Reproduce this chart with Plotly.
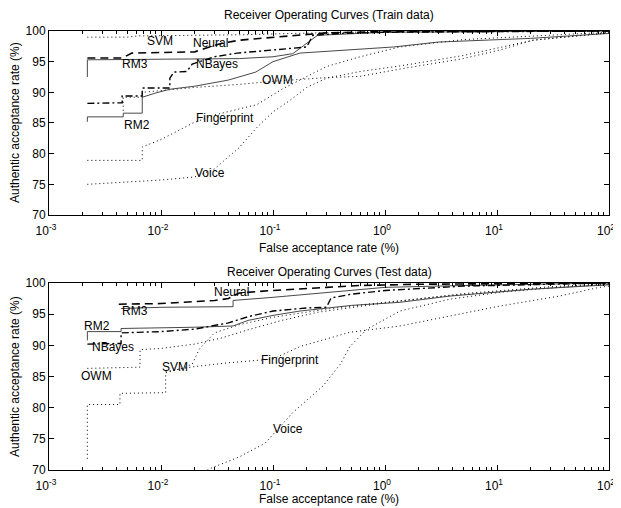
import math
import plotly.graph_objects as go

# ---------------- data (FAR %, authentic acceptance %) ----------------
# Train data
train_svm_x = [0.0022, 0.005, 0.0062, 0.02, 0.06, 0.15, 0.5, 5, 100]
train_svm_y = [99.0, 99.0, 99.2, 99.3, 99.4, 99.6, 99.8, 99.9, 100]
train_neural_x = [0.0022, 0.0045, 0.0055, 0.02, 0.025, 0.035, 0.05, 0.08, 0.2, 0.3, 1, 100]
train_neural_y = [95.6, 95.6, 96.4, 96.6, 97.2, 98.0, 98.5, 98.8, 99.5, 99.7, 99.9, 100]
train_rm3_x = [0.0022, 0.0022, 0.01, 0.05, 0.1, 0.15, 0.25, 1, 100]
train_rm3_y = [92.5, 95.3, 95.4, 95.5, 95.8, 96.3, 99.3, 99.8, 100]
train_nbayes_x = [0.0022, 0.0045, 0.0045, 0.0068, 0.0068, 0.012, 0.012, 0.013, 0.017, 0.019, 0.03,
                  0.048, 0.1, 0.2, 0.227, 0.4, 1, 100]
train_nbayes_y = [88.2, 88.3, 89.4, 89.4, 90.7, 90.7, 92.3, 93.3, 93.4, 94.6, 95.8,
                  96.4, 96.9, 97.4, 99.3, 99.6, 99.8, 100]
train_rm2_x = [0.0022, 0.0022, 0.0046, 0.0046, 0.0068, 0.0068, 0.009, 0.012, 0.02, 0.04, 0.07,
               0.1, 0.174, 1.2, 3, 20, 100]
train_rm2_y = [85.2, 86.0, 86.0, 86.6, 86.6, 89.2, 89.9, 90.5, 91.0, 92.0, 93.3,
               95.0, 96.4, 97.4, 98.2, 98.8, 99.6]
train_owm_x = [0.0046, 0.0046, 0.0068, 0.0068, 0.02, 0.05, 0.1, 0.3, 0.6, 1.36, 5, 10.6, 21, 100]
train_owm_y = [87.0, 89.2, 89.2, 90.0, 90.8, 91.3, 91.8, 92.4, 92.6, 93.8, 95.5, 96.9, 98.5, 99.7]
train_finger_x = [0.0022, 0.0068, 0.0068, 0.01, 0.0193, 0.03, 0.072, 0.12, 0.174, 0.3, 0.6, 1.36, 5, 100]
train_finger_y = [78.9, 78.9, 81.1, 82.3, 85.0, 86.3, 88.0, 90.5, 92.0, 94.2, 95.8, 97.4, 98.6, 99.8]
train_voice_x = [0.0022, 0.005, 0.01, 0.02, 0.03, 0.05, 0.072, 0.1, 0.142, 0.2, 0.3, 0.6, 1.36, 5, 21, 100]
train_voice_y = [75.0, 75.4, 75.7, 76.2, 77.5, 81.0, 84.3, 86.8, 88.7, 90.8, 92.3, 93.4, 94.3, 96.0, 98.5, 99.7]

# Test data
test_neural_x = [0.0042, 0.01, 0.03, 0.04, 0.05, 0.1, 0.3, 0.6, 2, 100]
test_neural_y = [96.6, 96.7, 97.2, 97.5, 98.4, 98.8, 99.3, 99.6, 99.8, 100]
test_rm3_x = [0.0044, 0.01, 0.044, 0.044, 0.1, 0.3, 1, 5, 100]
test_rm3_y = [95.9, 96.1, 96.2, 97.2, 97.7, 98.5, 99.3, 99.6, 100]
test_rm2_x = [0.0022, 0.0022, 0.0044, 0.0044, 0.02, 0.044, 0.06, 0.1, 0.174, 0.5, 1.36, 3.8, 20, 100]
test_rm2_y = [90.8, 92.2, 92.2, 92.7, 92.9, 93.1, 94.0, 94.8, 95.5, 96.4, 96.9, 97.9, 99.0, 99.7]
test_nbayes_x = [0.0022, 0.0044, 0.0044, 0.01, 0.02, 0.04, 0.06, 0.1, 0.2, 0.3, 0.33, 0.5, 1, 5, 100]
test_nbayes_y = [90.2, 90.3, 92.0, 92.2, 92.6, 93.6, 94.6, 95.5, 96.0, 96.1, 97.6, 98.2, 98.8, 99.5, 100]
test_owm_x = [0.0022, 0.0022, 0.0043, 0.0043, 0.011, 0.011, 0.016, 0.019, 0.022, 0.03, 0.05, 0.1,
              0.3, 0.69, 3, 20, 100]
test_owm_y = [71.8, 80.5, 80.5, 82.3, 82.4, 85.6, 86.4, 87.0, 89.4, 92.0, 93.3, 94.5,
              95.8, 96.6, 97.8, 99.0, 99.8]
test_svm_x = [0.0022, 0.0065, 0.0065, 0.01, 0.02, 0.035, 0.06, 0.12, 0.25, 1, 5, 30, 100]
test_svm_y = [86.3, 86.5, 89.3, 89.5, 90.2, 91.2, 92.5, 94.0, 95.3, 96.8, 98.3, 99.4, 99.9]
test_finger_x = [0.011, 0.02, 0.04, 0.1, 0.174, 0.486, 1.36, 3.8, 10.6, 36, 82, 100]
test_finger_y = [85.8, 86.6, 87.2, 87.8, 89.8, 92.1, 93.1, 94.7, 96.3, 97.9, 99.3, 99.5]
test_voice_x = [0.018, 0.028, 0.05, 0.085, 0.15, 0.28, 0.4, 0.486, 0.69, 1.36, 3.8, 10.6, 36, 100]
test_voice_y = [68.5, 70.3, 72.1, 74.3, 79.2, 83.5, 87.0, 89.8, 92.6, 95.5, 97.4, 98.5, 99.3, 99.8]

# curve labels (name, x FAR %, y %)
train_labels = [("SVM", 0.0098, 98.4), ("Neural", 0.0274, 98.0), ("RM3", 0.00585, 94.7),
                ("NBayes", 0.0316, 94.7), ("OWM", 0.109, 92.0), ("RM2", 0.0061, 84.7),
                ("Fingerprint", 0.0373, 85.8), ("Voice", 0.0274, 76.8)]
test_labels = [("Neural", 0.043, 98.5), ("RM3", 0.00585, 95.5), ("RM2", 0.00268, 93.1),
               ("NBayes", 0.0037, 89.7), ("SVM", 0.0133, 86.5), ("Fingerprint", 0.142, 87.7),
               ("OWM", 0.00268, 85.0), ("Voice", 0.136, 76.5)]

titles = ["Receiver Operating Curves (Train data)", "Receiver Operating Curves (Test data)"]
x_title = "False acceptance rate (%)"
y_title = "Authentic acceptance rate (%)"
x_tick_vals = [1e-3, 1e-2, 1e-1, 1e0, 1e1, 1e2]
x_tick_text = ["10<sup>-3</sup>", "10<sup>-2</sup>", "10<sup>-1</sup>", "10<sup>0</sup>",
               "10<sup>1</sup>", "10<sup>2</sup>"]
y_tick_vals = [70, 75, 80, 85, 90, 95, 100]

# ---------------- styles ----------------
FONT = "Liberation Sans, Arial, Helvetica, sans-serif"
DOT = dict(color="black", width=1, dash="1px,3px")
DASH = dict(color="black", width=1.6, dash="8px,5px")
DASHDOT = dict(color="black", width=1.4, dash="7px,3px,2px,3px")
SOLID = dict(color="#333333", width=0.9)

fig = go.Figure()

def add(x, y, line, xa, ya):
    fig.add_trace(go.Scatter(x=x, y=y, mode="lines", line=line, xaxis=xa, yaxis=ya,
                             showlegend=False, hoverinfo="skip"))

# top
add(train_voice_x, train_voice_y, DOT, "x", "y")
add(train_finger_x, train_finger_y, DOT, "x", "y")
add(train_owm_x, train_owm_y, DOT, "x", "y")
add(train_svm_x, train_svm_y, DOT, "x", "y")
add(train_rm2_x, train_rm2_y, SOLID, "x", "y")
add(train_rm3_x, train_rm3_y, SOLID, "x", "y")
add(train_nbayes_x, train_nbayes_y, DASHDOT, "x", "y")
add(train_neural_x, train_neural_y, DASH, "x", "y")
# bottom
add(test_voice_x, test_voice_y, DOT, "x2", "y2")
add(test_finger_x, test_finger_y, DOT, "x2", "y2")
add(test_owm_x, test_owm_y, DOT, "x2", "y2")
add(test_svm_x, test_svm_y, DOT, "x2", "y2")
add(test_rm2_x, test_rm2_y, SOLID, "x2", "y2")
add(test_rm3_x, test_rm3_y, SOLID, "x2", "y2")
add(test_nbayes_x, test_nbayes_y, DASHDOT, "x2", "y2")
add(test_neural_x, test_neural_y, DASH, "x2", "y2")

minor_vals = [k * 10.0 ** e for e in range(-3, 2) for k in range(2, 10)]

xaxis_common = dict(type="log", range=[-3, 2], tickvals=x_tick_vals, ticktext=x_tick_text,
                    ticks="inside", ticklen=5, tickcolor="black", showline=True, linecolor="black",
                    linewidth=1, mirror="ticks", showgrid=False, zeroline=False, automargin=False,
                    ticklabelstandoff=5, ticklabelshift=-3,
                    tickfont=dict(family=FONT, size=12, color="black"),
                    minor=dict(tickvals=minor_vals, ticks="inside", ticklen=3, tickcolor="black",
                               showgrid=False))
yaxis_common = dict(range=[70, 100], tickvals=y_tick_vals, ticks="inside", ticklen=5,
                    tickcolor="black", showline=True, linecolor="black", linewidth=1,
                    mirror="ticks", showgrid=False, zeroline=False, automargin=False,
                    tickfont=dict(family=FONT, size=12, color="black"))

TOP = [0.5809, 1.0]
BOT = [0.0, 0.426]

# page body has an 8px default margin, so the figure is offset by (8, 8) in the window
OFF = 8
ML, MR, MT, MB = 49 - OFF, 20, 31 - OFF, 46
fig.update_layout(
    width=621, height=508,
    margin=dict(l=ML, r=MR, t=MT, b=MB),
    paper_bgcolor="white", plot_bgcolor="white",
    font=dict(family=FONT, size=12, color="black"),
    xaxis=dict(**xaxis_common, anchor="y", domain=[0, 1]),
    yaxis=dict(**yaxis_common, anchor="x", domain=TOP),
    xaxis2=dict(**xaxis_common, anchor="y2", domain=[0, 1]),
    yaxis2=dict(**yaxis_common, anchor="x2", domain=BOT),
)

ann = []
for name, xv, yv in train_labels:
    ann.append(dict(text=name, x=math.log10(xv), y=yv, xref="x", yref="y", showarrow=False,
                    font=dict(family=FONT, size=12, color="black")))
for name, xv, yv in test_labels:
    ann.append(dict(text=name, x=math.log10(xv), y=yv, xref="x2", yref="y2", showarrow=False,
                    font=dict(family=FONT, size=12, color="black")))

plot_h = 508 - MT - MB
plot_w = 621 - ML - MR
def py(pix):  # window pixel -> paper fraction
    return (508 - MB - (pix - OFF)) / plot_h
def px(pix):
    return ((pix - OFF) - ML) / plot_w

for title, ycen in zip(titles, [15, 272]):
    ann.append(dict(text=title, x=0.5, y=py(ycen), xref="paper", yref="paper", showarrow=False,
                    xanchor="center", yanchor="middle", font=dict(family=FONT, size=12)))
for ycen in [248, 499]:
    ann.append(dict(text=x_title, x=0.5, y=py(ycen), xref="paper", yref="paper", showarrow=False,
                    xanchor="center", yanchor="middle", font=dict(family=FONT, size=12)))
for ycen in [123, 377]:
    ann.append(dict(text=y_title, x=px(15), y=py(ycen), xref="paper", yref="paper",
                    showarrow=False, textangle=-90, xanchor="center", yanchor="middle",
                    font=dict(family=FONT, size=12)))
fig.update_layout(annotations=ann)

fig.write_html("out.html")
